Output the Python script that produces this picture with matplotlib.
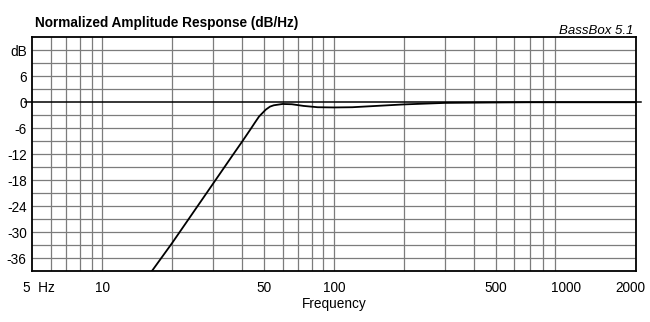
import numpy as np
import matplotlib
matplotlib.use("Agg")
from matplotlib import pyplot as plt
from matplotlib import transforms

plt.rcParams['font.family'] = ['Liberation Sans', 'DejaVu Sans']

# response (Hz, dB)
freq = [16.4, 20.0, 28.8, 36.6, 40.4, 43.7, 45.6, 47.5, 50.8, 53.0, 55.0, 60.0,
        65.8, 74.0, 85.0, 100.0, 120.0, 200.0, 300.0, 500.0, 700.0, 2000.0]
level = [-39.0, -32.6, -20.3, -12.2, -8.9, -6.2, -4.7, -3.3, -1.7, -1.0, -0.7, -0.4,
         -0.46, -0.85, -1.15, -1.2, -1.15, -0.5, -0.15, -0.05, 0.0, 0.0]

x_ticks = [10, 50, 100, 500, 1000, 2000]
x_labels = ['10', '50', '100', '500', '1000', '2000']
y_ticks = [12, 6, 0, -6, -12, -18, -24, -30, -36]
y_labels = ['dB', '6', '0', '-6', '-12', '-18', '-24', '-30', '-36']

# every integer multiple per decade gets a grid line
x_grid = [m * d for d in (1, 10, 100) for m in range(1, 10)]
x_grid = [g for g in x_grid if 5 < g < 2000]
y_grid = list(range(-36, 15, 3))

fig = plt.figure(figsize=(6.5, 3.22), dpi=100)
ax = fig.add_axes([0.0497, 0.1584, 0.9283, 0.7256])
ax.set_xscale('log')
ax.set_xlim(5, 2000)
ax.set_ylim(-39, 15)

for g in x_grid:
    ax.axvline(g, color='#7c7c7c', lw=0.9, zorder=1)
for g in y_grid:
    if g != 0:
        ax.axhline(g, color='#7c7c7c', lw=0.9, zorder=1)
# 0 dB reference runs a little past the frame on both sides
ax.plot([-0.012, 1.008], [0, 0], color='black', lw=1.1,
        transform=ax.get_yaxis_transform(), clip_on=False, zorder=2)

ax.plot(freq, level, color='black', lw=1.3, zorder=3)

ax.minorticks_off()
ax.set_xticks(x_ticks)
ax.set_xticklabels(x_labels)
ax.set_yticks(y_ticks)
ax.set_yticklabels(y_labels)
ax.tick_params(length=0, labelsize=9.8)
ax.tick_params(axis='x', pad=7)
ax.tick_params(axis='y', pad=4)
# keep the last frequency label inside the figure
last = ax.get_xticklabels()[-1]
last.set_transform(last.get_transform() +
                   transforms.ScaledTranslation(-5 / 100, 0, fig.dpi_scale_trans))
ax.annotate('5  Hz', xy=(5, -39), xytext=(-7, -7.5), textcoords='offset points',
            ha='left', va='top', fontsize=9.8, annotation_clip=False)

for s in ax.spines.values():
    s.set_linewidth(1.3)
    s.set_zorder(4)

ax.set_xlabel('Frequency', fontsize=9.8, labelpad=2)
fig.text(0.054, 0.93, 'Normalized Amplitude Response (dB/Hz)',
         fontsize=9.8, fontweight='bold', ha='left', va='center')
fig.text(0.975, 0.905, 'BassBox 5.1', fontsize=9.5, style='italic',
         ha='right', va='center')

fig.savefig('out.png', dpi=100, facecolor='white')
